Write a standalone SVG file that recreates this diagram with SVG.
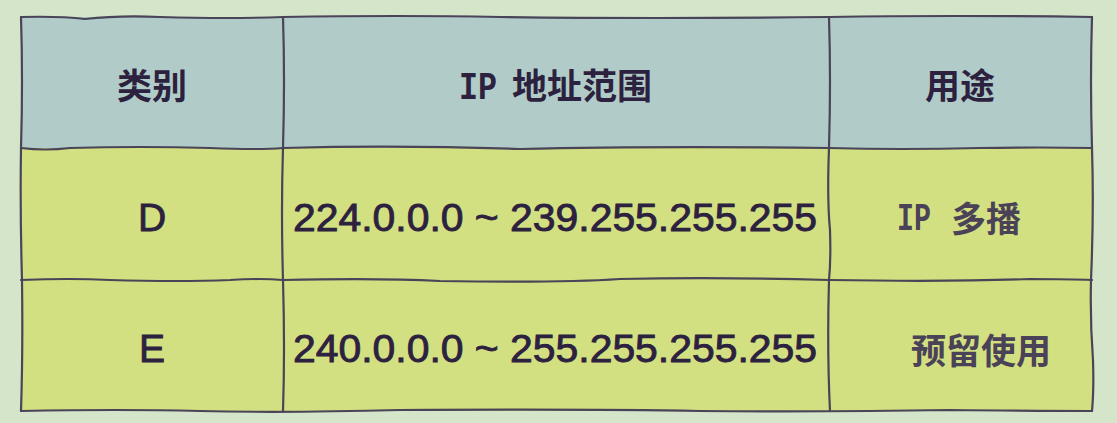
<svg xmlns="http://www.w3.org/2000/svg" width="1117" height="423" viewBox="0 0 1117 423">
  <style>
    .bg { fill: #d4e5ca; }
    .head { fill: #b1ccc8; }
    .row { fill: #d3e081; }
    .ln { fill: none; stroke: #4a4458; stroke-width: 2.2; stroke-linecap: round; stroke-linejoin: round; }
    .cjk { font-family: "Noto Sans CJK SC", sans-serif; font-weight: bold; font-size: 35px; fill: #2d2140; text-anchor: middle; }
    .cjk2 { font-family: "Noto Sans CJK SC", sans-serif; font-weight: bold; font-size: 35px; fill: #4a4256; text-anchor: middle; }
    .start { text-anchor: start; }
    .mono { font-family: "Liberation Mono", monospace; font-weight: bold; font-size: 38px; fill: #2d2140; }
    .mono2 { font-family: "Liberation Mono", monospace; font-weight: bold; font-size: 38px; fill: #4a4256; }
    .lat { font-family: "Liberation Sans", "Noto Sans CJK SC", sans-serif; font-size: 39px; fill: #2d2140; stroke: #2d2140; stroke-width: 0.9; text-anchor: middle; }
  </style>
  <rect class="bg" x="0" y="0" width="1117" height="423"/>
  <g id="cells">
    <rect class="head" x="21" y="17" width="1071" height="131"/>
    <rect class="row" x="21" y="148" width="1071" height="263"/>
  </g>
  <g id="grid">
    <path class="ln" d="M21 17 Q60 16 85 19 Q120 15 160 17 Q230 19 283 17 Q400 15 500 17 Q650 19 829 17 Q950 15 1092 17"/>
    <path class="ln" d="M21 148 Q45 151 70 148 Q140 146 210 148 Q260 150 283 148 Q400 145 520 149 Q650 146 829 148 Q900 150 980 148 Q1040 147 1092 148"/>
    <path class="ln" d="M21 280 Q70 278 110 280 Q180 282 230 280 Q260 278 283 280 Q380 278 440 281 Q560 283 620 279 Q720 277 829 280 Q950 282 1030 279 Q1070 279 1092 280"/>
    <path class="ln" d="M21 411 Q120 409 200 411 Q283 413 400 410 Q600 409 700 411 Q829 412 950 410 Q1040 411 1092 411"/>
    <path class="ln" d="M21 17 Q23 80 21 148 Q20 210 22 280 Q23 350 21 411"/>
    <path class="ln" d="M283 17 Q285 80 283 148 Q281 210 283 280 Q285 350 283 411"/>
    <path class="ln" d="M829 17 Q831 80 829 148 Q827 200 830 230 Q831 260 829 280 Q827 350 830 411"/>
    <path class="ln" d="M1092 17 Q1090 80 1092 148 Q1094 210 1091 280 Q1090 320 1093 360 Q1094 390 1092 411"/>
  </g>
  <g id="header">
    <text class="cjk" x="152" y="99">类别</text>
    <text class="mono" x="459" y="99" textLength="38" lengthAdjust="spacingAndGlyphs">IP</text>
    <text class="cjk start" x="512" y="99">地址范围</text>
    <text class="cjk" x="960" y="99">用途</text>
  </g>
  <g id="row-d">
    <text class="lat" x="152" y="231">D</text>
    <text class="lat" x="555" y="231" textLength="524" lengthAdjust="spacingAndGlyphs">224.0.0.0 ~ 239.255.255.255</text>
    <text class="mono2" x="897" y="230" textLength="34" lengthAdjust="spacingAndGlyphs">IP</text>
    <text class="cjk2 start" x="951" y="232">多播</text>
  </g>
  <g id="row-e">
    <text class="lat" x="152" y="362">E</text>
    <text class="lat" x="555" y="362" textLength="524" lengthAdjust="spacingAndGlyphs">240.0.0.0 ~ 255.255.255.255</text>
    <text class="cjk2" x="981" y="364">预留使用</text>
  </g>
</svg>
